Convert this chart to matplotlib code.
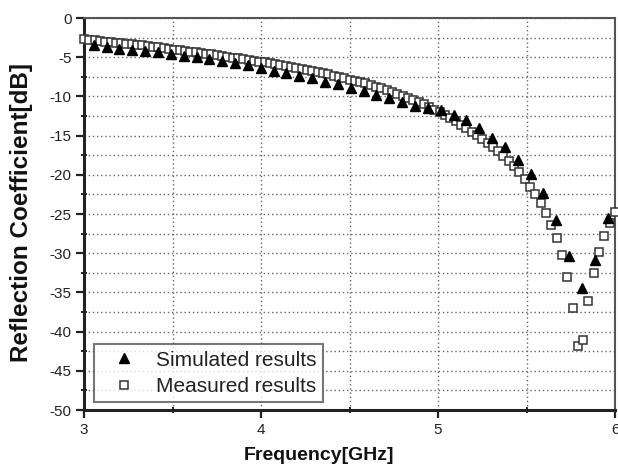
import matplotlib
matplotlib.use("Agg")
import matplotlib.pyplot as plt
from matplotlib.ticker import MultipleLocator

plt.rcParams['font.family'] = ['Liberation Sans', 'DejaVu Sans']

# Simulated results (triangles)
freq_sim = [3.055, 3.128, 3.200, 3.273, 3.345, 3.418, 3.491, 3.563, 3.636, 3.708,
            3.781, 3.854, 3.926, 3.999, 4.071, 4.144, 4.217, 4.289, 4.362, 4.434,
            4.507, 4.580, 4.652, 4.725, 4.797, 4.870, 4.943, 5.015, 5.088, 5.160,
            5.233, 5.306, 5.378, 5.451, 5.523, 5.596, 5.669, 5.741, 5.814, 5.886,
            5.959]
s11_sim = [-3.5, -3.7, -3.9, -4.05, -4.25, -4.4, -4.6, -4.8, -5.0, -5.25,
           -5.45, -5.75, -6.05, -6.4, -6.7, -7.05, -7.4, -7.7, -8.1, -8.45,
           -8.95, -9.3, -9.8, -10.25, -10.67, -11.25, -11.5, -11.7, -12.4, -13.0,
           -14.0, -15.35, -16.5, -18.1, -19.9, -22.3, -25.8, -30.4, -34.5, -30.9,
           -25.5]

# Measured results (squares)
freq_meas = [3.00, 3.03, 3.06, 3.09, 3.12, 3.15, 3.18, 3.21, 3.24, 3.27,
             3.30, 3.33, 3.36, 3.39, 3.42, 3.45, 3.48, 3.51, 3.54, 3.57,
             3.60, 3.63, 3.66, 3.69, 3.72, 3.75, 3.78, 3.81, 3.84, 3.87,
             3.90, 3.93, 3.96, 3.99, 4.02, 4.05, 4.08, 4.11, 4.14, 4.17,
             4.20, 4.23, 4.26, 4.29, 4.32, 4.35, 4.38, 4.41, 4.44, 4.47,
             4.50, 4.53, 4.56, 4.59, 4.62, 4.65, 4.68, 4.71, 4.74, 4.77,
             4.80, 4.83, 4.86, 4.89, 4.92, 4.95, 4.98, 5.01, 5.04, 5.07,
             5.10, 5.13, 5.16, 5.19, 5.22, 5.25, 5.28, 5.31, 5.34, 5.37,
             5.40, 5.43, 5.46, 5.49, 5.52, 5.55, 5.58, 5.61, 5.64, 5.67,
             5.70, 5.73, 5.76, 5.79, 5.82, 5.85, 5.88, 5.91, 5.94, 5.97,
             6.00]
s11_meas = [-2.7, -2.8, -2.85, -2.9, -3.0, -3.05, -3.15, -3.2, -3.3, -3.35,
            -3.45, -3.5, -3.6, -3.7, -3.75, -3.85, -3.95, -4.05, -4.1, -4.2,
            -4.3, -4.4, -4.5, -4.55, -4.65, -4.75, -4.85, -4.95, -5.05, -5.15,
            -5.25, -5.35, -5.45, -5.55, -5.65, -5.75, -5.9, -6.0, -6.1, -6.25,
            -6.35, -6.5, -6.6, -6.75, -6.9, -7.05, -7.2, -7.35, -7.5, -7.65,
            -7.85, -8.0, -8.15, -8.35, -8.55, -8.75, -8.95, -9.15, -9.4, -9.65,
            -9.9, -10.15, -10.4, -10.7, -11.0, -11.35, -11.7, -12.0, -12.4, -12.8,
            -13.2, -13.6, -14.0, -14.5, -14.9, -15.4, -15.9, -16.4, -17.0, -17.6,
            -18.2, -18.9, -19.6, -20.5, -21.5, -22.4, -23.6, -24.9, -26.4, -28.0,
            -30.2, -33.0, -37.0, -41.9, -41.1, -36.1, -32.5, -29.8, -27.8, -26.2,
            -24.8]

x_ticks = [3, 4, 5, 6]
y_ticks = [0, -5, -10, -15, -20, -25, -30, -35, -40, -45, -50]

fig = plt.figure(figsize=(6.18, 4.68), dpi=100)
ax = fig.add_axes([84 / 618, 1 - 410 / 468, 531 / 618, 392 / 468])

ax.set_xlim(3, 6)
ax.set_ylim(-50, 0)
ax.set_xticks(x_ticks)
ax.set_xticklabels([str(t) for t in x_ticks])
ax.set_yticks(y_ticks)
ax.set_yticklabels([str(t) for t in y_ticks])
ax.xaxis.set_minor_locator(MultipleLocator(0.5))
ax.yaxis.set_minor_locator(MultipleLocator(2.5))

ax.grid(True, which='both', linestyle=(0, (1, 2)), color='#666666', linewidth=1.0)
ax.set_axisbelow(True)

ax.plot(freq_sim, s11_sim, linestyle='none', marker='^', markersize=7.5,
        color='black', label='Simulated results', clip_on=False, zorder=4)
ax.plot(freq_meas, s11_meas, linestyle='none', marker='s', markersize=6.3,
        markerfacecolor='white', markeredgecolor='#333333', markeredgewidth=1.1,
        label='Measured results', clip_on=False, zorder=3)

for side in ['left', 'bottom']:
    ax.spines[side].set_linewidth(2.2)
    ax.spines[side].set_color('#222222')
for side in ['top', 'right']:
    ax.spines[side].set_linewidth(1.5)
    ax.spines[side].set_color('#555555')

ax.tick_params(which='major', direction='out', length=6, width=1.6,
               color='#222222', labelsize=11, pad=3, labelcolor='#222222')
ax.tick_params(which='minor', direction='inout', length=5, width=1.4,
               color='#222222')

leg = ax.legend(loc='lower left', bbox_to_anchor=(0.018, 0.02), fontsize=15,
                frameon=True, fancybox=False, edgecolor='#555555',
                handlelength=2.3, handletextpad=0.4, borderpad=0.3,
                labelspacing=0.35, borderaxespad=0, markerscale=0.9)
leg.get_frame().set_linewidth(1.5)
for txt in leg.get_texts():
    txt.set_color('#222222')

fig.text(319 / 618, 1 - 456 / 468, 'Frequency[GHz]', ha='center', va='center',
         fontsize=14, fontweight='bold', color='#111111')
fig.text(22 / 618, 1 - 212 / 468, 'Reflection Coefficient[dB]', ha='center',
         va='center', rotation=90, fontsize=17.5, fontweight='bold', color='#111111')

fig.savefig('out.png', dpi=100)
